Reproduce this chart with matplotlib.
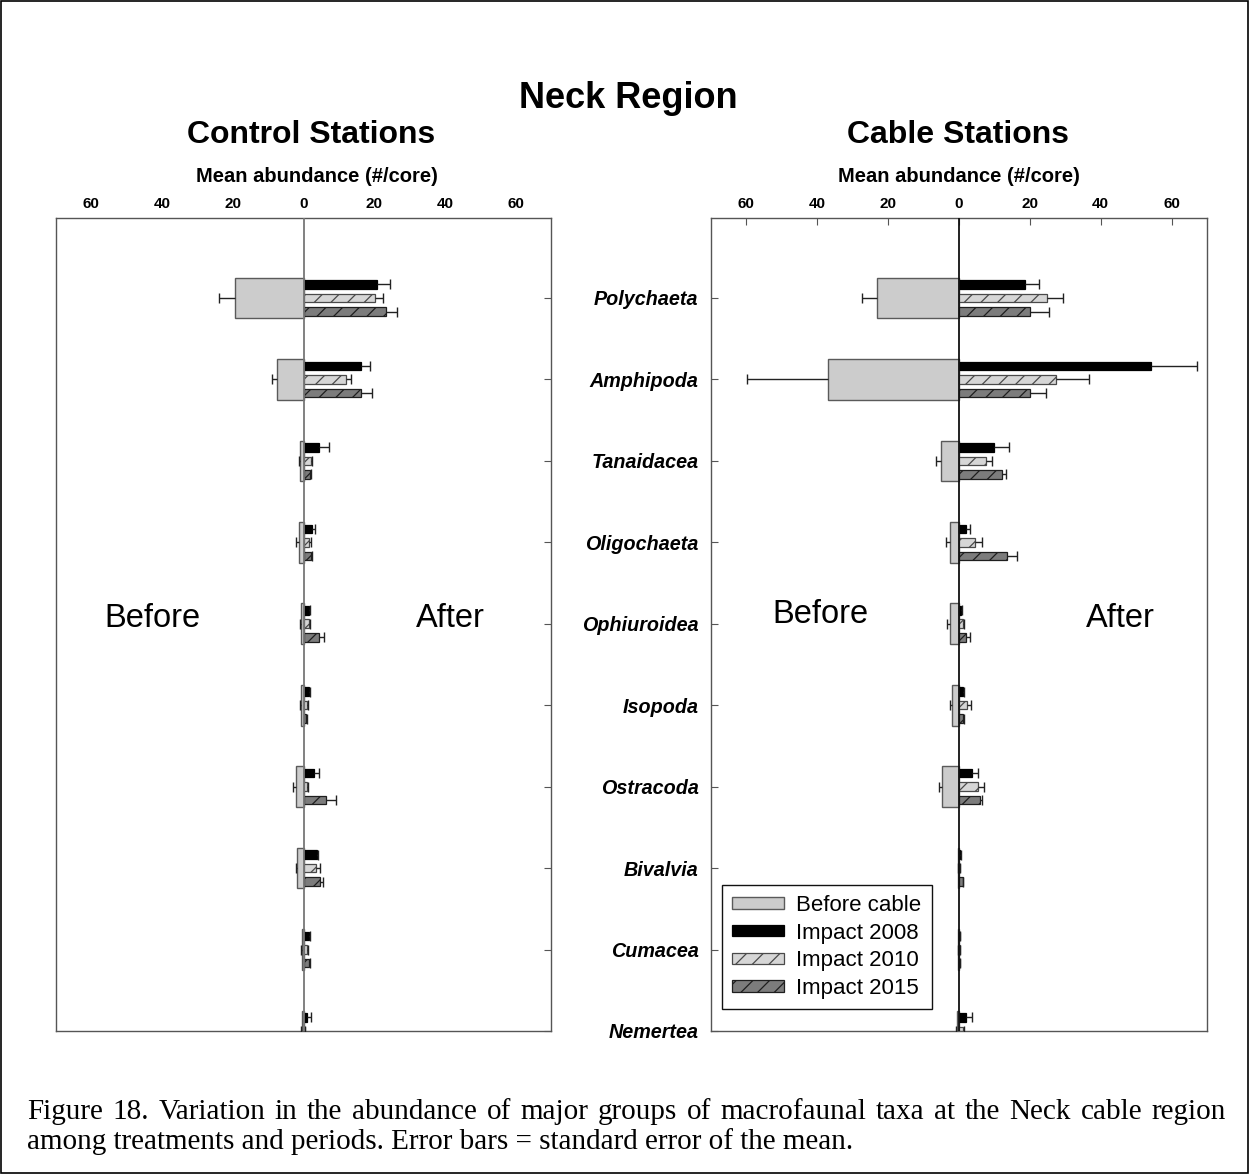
import matplotlib
matplotlib.use("Agg")
import matplotlib.pyplot as plt
import numpy as np
from matplotlib.patches import Rectangle

plt.rcParams["font.family"] = ["Liberation Sans", "DejaVu Sans"]
plt.rcParams["hatch.linewidth"] = 0.9

# ---- data: mean abundance (#/core) and standard error ----
categories = ["Polychaeta", "Amphipoda", "Tanaidacea", "Oligochaeta", "Ophiuroidea",
              "Isopoda", "Ostracoda", "Bivalvia", "Cumacea", "Nemertea"]
tick_values = [-60, -40, -20, 0, 20, 40, 60]
tick_labels = ["60", "40", "20", "0", "20", "40", "60"]
series_names = ["Before cable", "Impact 2008", "Impact 2010", "Impact 2015"]

control_before = [19.5, 7.4, 0.9, 1.3, 0.7, 0.7, 2.2, 1.9, 0.5, 0.5]
control_before_se = [4.5, 1.6, 0.3, 0.7, 0.3, 0.3, 0.9, 0.3, 0.2, 0.2]
control_2008 = [20.7, 16.2, 4.5, 2.3, 1.5, 1.6, 3.0, 3.7, 1.6, 1.1]
control_2008_se = [3.7, 2.6, 2.7, 1.0, 0.3, 0.3, 1.4, 0.5, 0.3, 1.0]
control_2010 = [20.2, 11.9, 2.0, 1.6, 1.5, 0.9, 0.9, 3.4, 0.9, 0.3]
control_2010_se = [2.3, 1.4, 0.4, 0.4, 0.3, 0.3, 0.4, 1.3, 0.3, 0.2]
control_2015 = [23.3, 16.2, 1.7, 2.0, 4.4, 0.7, 6.4, 4.7, 1.6, 0.3]
control_2015_se = [3.1, 3.3, 0.3, 0.3, 1.4, 0.2, 2.8, 0.9, 0.3, 0.2]

cable_before = [23.2, 37.0, 5.2, 2.6, 2.6, 1.9, 4.7, 0.2, 0.2, 0.7]
cable_before_se = [4.3, 22.9, 1.2, 1.2, 0.7, 0.7, 1.0, 0.1, 0.1, 0.2]
cable_2008 = [18.5, 54.3, 9.8, 2.0, 0.6, 1.2, 3.8, 0.4, 0.3, 2.1]
cable_2008_se = [4.1, 12.8, 4.3, 1.1, 0.2, 0.2, 1.7, 0.1, 0.1, 1.7]
cable_2010 = [24.9, 27.5, 7.7, 4.6, 1.2, 2.2, 5.3, 0.3, 0.2, 1.2]
cable_2010_se = [4.4, 9.1, 1.6, 1.9, 0.3, 1.1, 1.8, 0.1, 0.1, 0.2]
cable_2015 = [20.1, 19.9, 12.2, 13.6, 1.9, 1.1, 6.0, 1.0, 0.3, 0.3]
cable_2015_se = [5.2, 4.7, 1.2, 2.8, 1.2, 0.2, 0.4, 0.2, 0.1, 0.1]

caption_line1 = ("Figure 18. Variation in the abundance of major groups of macrofaunal "
                 "taxa at the Neck cable region")
caption_line2 = "among treatments and periods. Error bars = standard error of the mean."

# ---- styles ----
styles = {
    "Before cable": dict(color="#cccccc", edgecolor="#5a5a5a", hatch=None),
    "Impact 2008": dict(color="#000000", edgecolor="#000000", hatch=None),
    "Impact 2010": dict(color="#d6d6d6", edgecolor="#4a4a4a", hatch="//"),
    "Impact 2015": dict(color="#7c7c7c", edgecolor="#1e1e1e", hatch="//"),
}

W, H = 1249, 1174
fig = plt.figure(figsize=(W / 100, H / 100), dpi=100)


def px_axes(x0, y0, x1, y1):
    return fig.add_axes([x0 / W, 1 - y1 / H, (x1 - x0) / W, (y1 - y0) / H])


def errbars(ax, ypos, vals, ses, sign):
    vals = np.asarray(vals) * sign
    ends = vals + np.asarray(ses) * sign
    ax.hlines(ypos, vals, ends, color="#222222", lw=1.0, zorder=3)
    ax.plot(ends, ypos, ls="none", marker="|", markersize=7.5,
            markeredgewidth=1.0, color="#222222", zorder=3)


def draw_panel(ax, before, before_se, impacts, impact_ses, zero_color, label_x):
    y = np.arange(1, len(categories) + 1)
    st = styles["Before cable"]
    ax.barh(y, -np.asarray(before), height=0.5, color=st["color"],
            edgecolor=st["edgecolor"], linewidth=1.0, zorder=2,
            label="Before cable")
    errbars(ax, y, before, before_se, -1)
    offsets = [-0.166, 0.0, 0.166]
    for name, vals, ses, off in zip(series_names[1:], impacts, impact_ses, offsets):
        st = styles[name]
        ax.barh(y + off, vals, height=0.105, color=st["color"],
                edgecolor=st["edgecolor"], hatch=st["hatch"], linewidth=0.9,
                zorder=2, label=name)
        errbars(ax, y + off, vals, ses, 1)
    ax.axvline(0, color=zero_color, lw=1.3, zorder=4)
    ax.set_xlim(-70, 70)
    ax.set_ylim(10.0, 0.018)
    ax.set_xticks(tick_values)
    ax.set_xticklabels(tick_labels, fontsize=11, fontweight="bold")
    ax.xaxis.tick_top()
    ax.xaxis.set_label_position("top")
    ax.set_xlabel("Mean abundance (#/core)", fontsize=14.5, fontweight="bold",
                  labelpad=11)
    ax.xaxis.label.set_x(label_x)
    for sp in ax.spines.values():
        sp.set_color("#555555")
        sp.set_linewidth(1.0)


# Control stations
axL = px_axes(56, 218, 551, 1031)
draw_panel(axL, control_before, control_before_se,
           [control_2008, control_2010, control_2015],
           [control_2008_se, control_2010_se, control_2015_se], "#777777",
           (317 - 56) / 495)
axL.tick_params(axis="x", direction="in", length=0, pad=5)
axL.yaxis.tick_right()
axL.set_yticks(np.arange(1, len(categories) + 1))
axL.tick_params(axis="y", direction="in", length=5, color="#555555",
                labelright=False)
axL.text(-42.6, 4.93, "Before", fontsize=23.5, ha="center", va="center")
axL.text(41.5, 4.93, "After", fontsize=23.5, ha="center", va="center")

# Cable stations
axR = px_axes(711, 218, 1207, 1031)
draw_panel(axR, cable_before, cable_before_se,
           [cable_2008, cable_2010, cable_2015],
           [cable_2008_se, cable_2010_se, cable_2015_se], "#111111", 0.5)
axR.tick_params(axis="x", direction="in", length=5, color="#555555", pad=5)
axR.set_yticks(np.arange(1, len(categories) + 1))
axR.set_yticklabels(categories, fontsize=14.2, fontweight="bold", style="italic")
axR.tick_params(axis="y", direction="in", length=5, color="#555555", pad=9)
axR.text(-39.0, 4.89, "Before", fontsize=23.5, ha="center", va="center")
axR.text(45.6, 4.93, "After", fontsize=23.5, ha="center", va="center")

leg = axR.legend(loc="lower left", bbox_to_anchor=(11 / 496, 22 / 813),
                 fontsize=16, frameon=True, fancybox=False, framealpha=1,
                 edgecolor="#111111", handlelength=2.35, handleheight=0.42,
                 handletextpad=0.55, labelspacing=0.3, borderpad=0.45,
                 borderaxespad=0)
leg.get_frame().set_linewidth(1.0)

# Titles
fig.text(628 / W, 1 - 98 / H, "Neck Region", fontsize=26, fontweight="bold",
         ha="center", va="center")
fig.text(311 / W, 1 - 135 / H, "Control Stations", fontsize=23, fontweight="bold",
         ha="center", va="center")
fig.text(958 / W, 1 - 135 / H, "Cable Stations", fontsize=23, fontweight="bold",
         ha="center", va="center")

# Caption (first line justified between the margins)
cap_font = dict(fontsize=21, family=["Liberation Serif", "DejaVu Serif"])
renderer = fig.canvas.get_renderer()
words = caption_line1.split(" ")
left_px, right_px = 27, 1226
word_texts = [fig.text(0, 1 - 1112 / H, w, ha="left", va="center", **cap_font)
              for w in words]
widths = [t.get_window_extent(renderer).width for t in word_texts]
gap = (right_px - left_px - sum(widths)) / (len(words) - 1)
xpos = left_px
for t, w in zip(word_texts, widths):
    t.set_x(xpos / W)
    xpos += w + gap
fig.text(left_px / W, 1 - 1142 / H, caption_line2, ha="left", va="center", **cap_font)

# Outer frame
fig.patches.append(Rectangle((0.0008, 0.0009), 0.9984, 0.9982,
                             transform=fig.transFigure, fill=False,
                             edgecolor="#000000", linewidth=1.2))

fig.savefig("out.png", dpi=100)
